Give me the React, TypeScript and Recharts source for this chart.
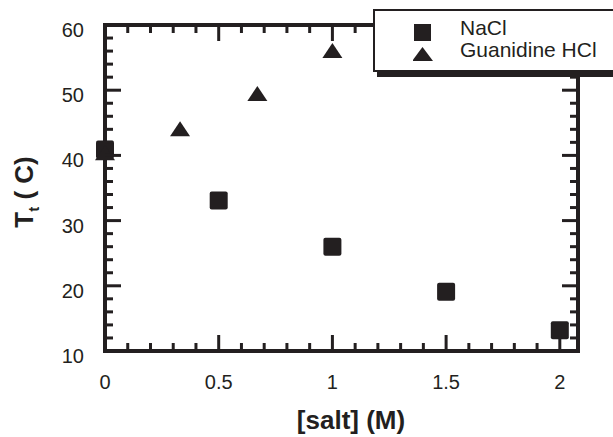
import React from 'react';
import { ScatterChart, Scatter, XAxis, YAxis, Legend } from 'recharts';

const naclSalt = [0, 0.5, 1, 1.5, 2];
const naclTt = [40.9, 33.1, 26.0, 19.1, 13.2];
const guanSalt = [0, 0.33, 0.67, 1];
const guanTt = [40.4, 44.1, 49.5, 56.1];

const seriesNames = ['NaCl', 'Guanidine HCl'];

const xTicks = [0, 0.1, 0.2, 0.3, 0.4, 0.5, 0.6, 0.7, 0.8, 0.9, 1, 1.1, 1.2, 1.3, 1.4, 1.5, 1.6, 1.7, 1.8, 1.9, 2, 2.08];
const xMajor = [0, 0.5, 1, 1.5, 2];
const xLabels = ['0', '0.5', '1', '1.5', '2'];
const yTicks = [10, 12, 14, 16, 18, 20, 22, 24, 26, 28, 30, 32, 34, 36, 38, 40, 42, 44, 46, 48, 50, 52, 54, 56, 58, 60];
const yMajor = [10, 20, 30, 40, 50, 60];
const yLabels = ['10', '20', '30', '40', '50', '60'];

const naclData = naclSalt.map((s, i) => ({ salt: s, tt: naclTt[i] }));
const guanData = guanSalt.map((s, i) => ({ salt: s, tt: guanTt[i] }));

const INK = '#231f20';
const FONT = '"Liberation Sans", Arial, Helvetica, sans-serif';
const MAJ = 16;
const MIN = 8;
const TW = 3;

const majorIndex = (arr: number[], v: number) => arr.findIndex((m) => Math.abs(m - v) < 1e-6);

const BottomTick = (p: any) => {
  const v = p.payload.value;
  if (v > 2.01) return <g />;
  const mi = majorIndex(xMajor, v);
  const len = mi >= 0 ? MAJ : MIN;
  return (
    <g>
      <line x1={p.x} x2={p.x} y1={p.y} y2={p.y - len} stroke={INK} strokeWidth={TW} />
      {mi >= 0 && (
        <text x={p.x} y={p.y + 38} textAnchor="middle" fontSize={20} fontFamily={FONT} fill={INK}>
          {xLabels[mi]}
        </text>
      )}
    </g>
  );
};

const TopTick = (p: any) => {
  const v = p.payload.value;
  if (v > 2.01) return <g />;
  const mi = majorIndex(xMajor, v);
  const len = mi >= 0 ? MAJ : MIN;
  return <line x1={p.x} x2={p.x} y1={p.y} y2={p.y + len} stroke={INK} strokeWidth={TW} />;
};

const LeftTick = (p: any) => {
  const v = p.payload.value;
  const mi = majorIndex(yMajor, v);
  const len = mi >= 0 ? MAJ : MIN;
  return (
    <g>
      <line x1={p.x} x2={p.x + len} y1={p.y} y2={p.y} stroke={INK} strokeWidth={TW} />
      {mi >= 0 && (
        <text x={p.x - 21} y={p.y + 12} textAnchor="end" fontSize={20} fontFamily={FONT} fill={INK}>
          {yLabels[mi]}
        </text>
      )}
    </g>
  );
};

const RightTick = (p: any) => {
  const v = p.payload.value;
  const mi = majorIndex(yMajor, v);
  const len = mi >= 0 ? MAJ : MIN;
  return <line x1={p.x} x2={p.x - len} y1={p.y} y2={p.y} stroke={INK} strokeWidth={TW} />;
};

const SquareShape = (p: any) => (
  <rect x={p.cx - 9} y={p.cy - 9} width={18} height={18} rx={2} fill={INK} />
);

const TriangleShape = (p: any) => (
  <polygon
    points={`${p.cx - 10},${p.cy + 7.5} ${p.cx + 10},${p.cy + 7.5} ${p.cx},${p.cy - 7.5}`}
    fill={INK}
  />
);

const LegendBox = () => (
  <div
    style={{
      position: 'absolute',
      left: 373,
      top: 9,
      width: 270,
      height: 59,
      background: '#fff',
      border: `2px solid ${INK}`,
      boxShadow: `4px 5px 0 ${INK}`,
      fontFamily: FONT,
      fontSize: 21,
      color: INK,
    }}
  >
    <svg width={40} height={59} style={{ position: 'absolute', left: 38, top: 0 }}>
      <rect x={1} y={13} width={17} height={17} fill={INK} />
      <polygon points="-1,50 20,50 9.5,36" fill={INK} />
    </svg>
    <div style={{ position: 'absolute', left: 85, top: 6, lineHeight: '22px', whiteSpace: 'nowrap' }}>
      <div>{seriesNames[0]}</div>
      <div>{seriesNames[1]}</div>
    </div>
  </div>
);

export default function App() {
  const axisLine = { stroke: INK, strokeWidth: 4, strokeLinecap: 'square' as const };
  return (
    <div style={{ position: 'absolute', left: 0, top: 0, width: 613, height: 437, overflow: 'hidden', background: '#fff' }}>
      <ScatterChart width={613} height={437} margin={{ top: 24, right: 34, bottom: 85, left: 104 }}>
        <XAxis
          xAxisId="b"
          dataKey="salt"
          type="number"
          domain={[0, 2.08]}
          ticks={xTicks}
          interval={0}
          height={1}
          tickSize={0}
          tickMargin={0}
          tickLine={false}
          axisLine={axisLine}
          tick={(p: any) => <BottomTick {...p} />}
          orientation="bottom"
        />
        <XAxis
          xAxisId="t"
          dataKey="salt"
          type="number"
          domain={[0, 2.08]}
          ticks={xTicks}
          interval={0}
          height={1}
          tickSize={0}
          tickMargin={0}
          tickLine={false}
          axisLine={axisLine}
          tick={(p: any) => <TopTick {...p} />}
          orientation="top"
        />
        <YAxis
          yAxisId="l"
          dataKey="tt"
          type="number"
          domain={[10, 60]}
          ticks={yTicks}
          interval={0}
          width={1}
          tickSize={0}
          tickMargin={0}
          tickLine={false}
          axisLine={axisLine}
          tick={(p: any) => <LeftTick {...p} />}
          orientation="left"
        />
        <YAxis
          yAxisId="r"
          dataKey="tt"
          type="number"
          domain={[10, 60]}
          ticks={yTicks}
          interval={0}
          width={1}
          tickSize={0}
          tickMargin={0}
          tickLine={false}
          axisLine={axisLine}
          tick={(p: any) => <RightTick {...p} />}
          orientation="right"
        />
        <Scatter
          name={seriesNames[0]}
          data={naclData}
          xAxisId="b"
          yAxisId="l"
          fill={INK}
          shape={(p: any) => <SquareShape {...p} />}
          isAnimationActive={false}
        />
        <Scatter
          name={seriesNames[1]}
          data={guanData}
          xAxisId="t"
          yAxisId="r"
          fill={INK}
          shape={(p: any) => <TriangleShape {...p} />}
          isAnimationActive={false}
        />
        <text
          transform="translate(33,192) rotate(-90)"
          textAnchor="middle"
          fontSize={26}
          fontWeight="bold"
          fontFamily={FONT}
          fill={INK}
        >
          T<tspan fontSize={15} dy={6}>t</tspan>
          <tspan dy={-6}> (  C)</tspan>
        </text>
        <text x={351} y={429} textAnchor="middle" fontSize={26} fontWeight="bold" fontFamily={FONT} fill={INK}>
          [salt] (M)
        </text>
        <Legend
          layout="horizontal"
          verticalAlign="middle"
          align="center"
          wrapperStyle={{ position: 'absolute', left: 0, top: 0, width: 613, height: 0 }}
          content={() => <LegendBox />}
        />
      </ScatterChart>
    </div>
  );
}
